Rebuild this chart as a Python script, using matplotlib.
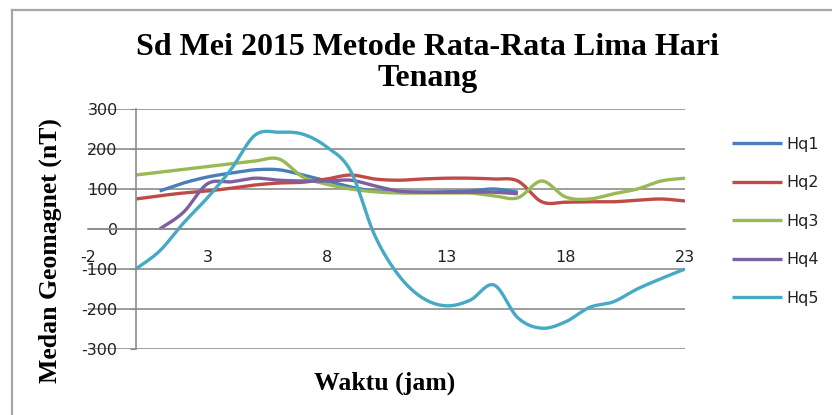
import numpy as np
import matplotlib
matplotlib.use("Agg")
import matplotlib.pyplot as plt
from matplotlib.lines import Line2D

plt.rcParams["axes.unicode_minus"] = False

# ---------------- data ----------------
hours_full = list(range(0, 24))
hours_part = list(range(1, 17))

hq1 = [95, 115, 130, 140, 148, 148, 135, 120, 105, 95, 93, 92, 93, 95, 100, 92]
hq2 = [75, 83, 90, 95, 102, 110, 115, 117, 125, 135, 125, 122, 125, 127, 127, 125,
       120, 68, 67, 68, 68, 72, 75, 70]
hq3 = [135, 142, 149, 156, 163, 170, 175, 130, 112, 100, 93, 90, 90, 90, 90, 83,
       78, 120, 80, 75, 88, 100, 120, 127]
hq4 = [0, 42, 113, 118, 127, 122, 120, 120, 122, 108, 95, 92, 92, 92, 92, 88]
hq5 = [-100, -55, 15, 78, 150, 235, 242, 237, 205, 145, -15, -115, -172, -192, -178,
       -140, -222, -248, -232, -196, -182, -150, -124, -100]

series_names = ["Hq1", "Hq2", "Hq3", "Hq4", "Hq5"]
series = [(hours_part, hq1), (hours_full, hq2), (hours_full, hq3),
          (hours_part, hq4), (hours_full, hq5)]
colors = ["#4A7EBB", "#BE4B48", "#98B954", "#7D60A0", "#46AAC5"]

xticks = [-2, 3, 8, 13, 18, 23]
yticks = [-300, -200, -100, 0, 100, 200, 300]

title = "Sd Mei 2015 Metode Rata-Rata Lima Hari\nTenang"
xlabel = "Waktu (jam)"
ylabel = "Medan Geomagnet (nT)"


def smooth(x, y, n=20):
    """Excel-like smoothed line (Catmull-Rom Bezier)."""
    x = np.asarray(x, float)
    y = np.asarray(y, float)
    P = np.column_stack([x, y])
    out = []
    m = len(P)
    for i in range(m - 1):
        p0 = P[i - 1] if i > 0 else P[i]
        p1 = P[i]
        p2 = P[i + 1]
        p3 = P[i + 2] if i + 2 < m else P[i + 1]
        c1 = p1 + (p2 - p0) / 6.0
        c2 = p2 - (p3 - p1) / 6.0
        t = np.linspace(0, 1, n, endpoint=(i == m - 2))[:, None]
        b = ((1 - t) ** 3) * p1 + 3 * ((1 - t) ** 2) * t * c1 + 3 * (1 - t) * t ** 2 * c2 + t ** 3 * p2
        out.append(b)
    out = np.vstack(out)
    return out[:, 0], out[:, 1]


W, H = 832, 415
fig = plt.figure(figsize=(W / 100, H / 100), dpi=100)
ax = fig.add_axes([88 / W, (H - 349) / H, (685 - 88) / W, (349 - 109) / H])
ax.set_xlim(-2, 23)
ax.set_ylim(-300, 300)

grid_c = "#8c8c8c"
ax.spines["top"].set_visible(False)
ax.spines["right"].set_visible(False)
ax.spines["left"].set_position(("data", 0))
ax.spines["bottom"].set_position(("data", 0))
for s in ("left", "bottom"):
    ax.spines[s].set_color(grid_c)
    ax.spines[s].set_linewidth(1.2)
ax.yaxis.grid(True, color=grid_c, lw=1.2)
ax.set_axisbelow(True)

ax.set_xticks(xticks)
ax.set_yticks(yticks)
ax.tick_params(axis="x", length=0, pad=15, labelsize=11.5, labelcolor="#222222")
ax.tick_params(axis="y", length=4, color=grid_c, pad=9, labelsize=11.5,
               labelcolor="#222222")

for (xs, ys), name, c in zip(series, series_names, colors):
    sx, sy = smooth(xs, ys)
    ax.plot(sx, sy, color=c, lw=2.4, label=name, solid_capstyle="butt")

leg = ax.legend(loc="upper left", bbox_to_anchor=(732 / W, 1 - 137 / H),
                bbox_transform=fig.transFigure, frameon=False, fontsize=11.5,
                handlelength=3.1, handletextpad=0.3, labelspacing=1.47,
                borderaxespad=0, borderpad=0)
for t in leg.get_texts():
    t.set_color("#222222")

serif = ["Liberation Serif", "DejaVu Serif"]
fig.text(428 / W, 1 - 63 / H, title, ha="center", va="center", family=serif,
         weight="bold", fontsize=23, linespacing=1.12)
fig.text(50 / W, 1 - 251 / H, ylabel, ha="center", va="center", rotation=90,
         family=serif, weight="bold", fontsize=18.5)
fig.text(385 / W, 1 - 383 / H, xlabel, ha="center", va="center", family=serif,
         weight="bold", fontsize=18.5)

border_c = "#a6a6a6"
fig.add_artist(Line2D([12 / W, 1], [1 - 10 / H, 1 - 10 / H], transform=fig.transFigure,
                      color=border_c, lw=1.6))
fig.add_artist(Line2D([12 / W, 12 / W], [0, 1 - 10 / H], transform=fig.transFigure,
                      color=border_c, lw=1.6))

fig.savefig("out.png", dpi=100)
